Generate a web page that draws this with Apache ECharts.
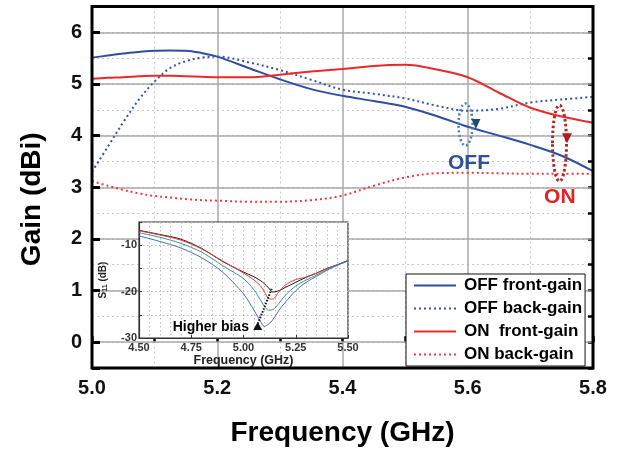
<!DOCTYPE html>
<html><head><meta charset="utf-8">
<script src="https://cdn.jsdelivr.net/npm/echarts@6/dist/echarts.min.js"></script>
<style>html,body{margin:0;padding:0;background:#fff}#c{width:620px;height:452px}</style>
</head><body><div id="c"></div>
<script>
// ---- main chart data (Frequency GHz vs Gain dBi) ----
const freq      = [5.00, 5.025, 5.05, 5.075, 5.10, 5.125, 5.15, 5.175, 5.20, 5.25, 5.30, 5.35, 5.40, 5.45, 5.50, 5.55, 5.60, 5.65, 5.70, 5.75, 5.80];
const offFront  = [5.51, 5.55, 5.59, 5.62, 5.645, 5.65, 5.645, 5.60, 5.53, 5.31, 5.09, 4.90, 4.77, 4.67, 4.56, 4.38, 4.17, 4.00, 3.82, 3.61, 3.31];
const offBack   = [3.30, 3.78, 4.26, 4.70, 5.05, 5.31, 5.44, 5.51, 5.53, 5.42, 5.27, 5.08, 4.89, 4.81, 4.72, 4.58, 4.48, 4.52, 4.64, 4.70, 4.75];
const onFront   = [5.10, 5.12, 5.13, 5.15, 5.16, 5.16, 5.15, 5.14, 5.13, 5.13, 5.18, 5.24, 5.29, 5.35, 5.37, 5.28, 5.13, 4.83, 4.54, 4.37, 4.25];
const onBack    = [3.12, 3.03, 2.95, 2.88, 2.83, 2.80, 2.77, 2.75, 2.74, 2.72, 2.72, 2.75, 2.84, 3.03, 3.19, 3.27, 3.28, 3.27, 3.26, 3.26, 3.26];
const seriesNames = ['OFF front-gain', 'OFF back-gain', 'ON  front-gain', 'ON back-gain'];
const xTicks = [5.0, 5.2, 5.4, 5.6, 5.8];
const yTicks = [0, 1, 2, 3, 4, 5, 6];

// ---- inset data (Frequency GHz vs S11 dB, four bias levels) ----
const insetFreq = [4.50, 4.60, 4.70, 4.80, 4.90, 5.00, 5.05, 5.08, 5.10, 5.12, 5.14, 5.17, 5.20, 5.25, 5.30, 5.35, 5.40, 5.45, 5.50];
const s11Black  = [-6.8, -7.7, -8.7, -10.7, -13.5, -15.8, -16.8, -17.6, -18.3, -19.2, -20.1, -19.8, -19.1, -18.0, -16.9, -16.0, -15.0, -14.2, -13.3];
const s11Red    = [-6.9, -7.8, -8.9, -10.8, -13.4, -16.0, -17.5, -18.7, -20.0, -21.5, -21.6, -20.0, -18.6, -17.4, -16.9, -16.0, -15.0, -14.2, -13.3];
const s11Teal   = [-7.3, -8.3, -9.6, -11.5, -14.4, -17.2, -19.6, -21.7, -23.2, -24.0, -23.9, -22.5, -20.8, -18.8, -17.5, -16.4, -15.2, -14.3, -13.4];
const s11Blue   = [-8.0, -9.2, -10.6, -12.7, -15.8, -20.5, -24.0, -26.3, -27.5, -27.0, -26.1, -24.0, -22.3, -19.8, -18.0, -16.7, -15.4, -14.3, -13.4];
const insetXTicks = [4.50, 4.75, 5.00, 5.25, 5.50];
const insetYTicks = [-10, -20, -30];

// annotation anchors in data units
const offMark = {cx: 5.5964, cy: 4.215, tx: 5.613, ty: 4.225, lx: 5.602, ly: 3.47};
const onMark  = {cx: 5.7465, cy: 3.853, tx: 5.7585, ty: 3.948, lx: 5.747, ly: 2.80};
const biasArrow = {x0: 5.135, y0: -19.4, x1: 5.068, y1: -27.0, tx: 5.026, ty: -27.7};

const FONT = '"Liberation Sans", Arial, sans-serif';
const pairs = (xs, ys) => xs.map((x, i) => [x, ys[i]]);

const chart = echarts.init(document.getElementById('c'), null, {renderer: 'canvas'});

const mainColors = ['#2f4ea3', '#3456aa', '#ea2a2a', '#ee3a3a'];
const mainData = [offFront, offBack, onFront, onBack];
const dotted = [false, true, false, true];

const series = mainData.map((d, i) => ({
  name: seriesNames[i], type: 'line', xAxisIndex: 0, yAxisIndex: 0,
  data: pairs(freq, d), smooth: 0.35, symbol: 'none', z: 2,
  color: mainColors[i],
  lineStyle: {color: mainColors[i], width: 2, type: dotted[i] ? [2, 3] : 'solid'}
}));
const insetColors = ['#1a1a1a', '#ee3535', '#2f9c8c', '#4a6cc8'];
[s11Black, s11Red, s11Teal, s11Blue].forEach((d, i) => series.push({
  name: 's11_' + i, type: 'line', xAxisIndex: 1, yAxisIndex: 2,
  data: pairs(insetFreq, d), smooth: 0.3, symbol: 'none', z: 6, silent: true,
  lineStyle: {color: insetColors[i], width: 1}
}));

chart.setOption({
  animation: false,
  backgroundColor: '#fff',
  grid: [
    {left: 92, right: 27, top: 6.5, bottom: 78.5, show: false},
    {left: 139, top: 222, width: 209, height: 116, show: true, backgroundColor: '#fff', borderColor: '#333', borderWidth: 1.2, z: 3}
  ],
  legend: {
    data: seriesNames, orient: 'vertical', left: 406, top: 274,
    backgroundColor: '#fff', borderColor: '#111', borderWidth: 1, borderRadius: 0,
    padding: [3, 3, 3, 7], itemWidth: 42, itemHeight: 14, itemGap: 6, z: 6,
    itemStyle: {opacity: 0},
    textStyle: {fontFamily: FONT, fontWeight: 'bold', fontSize: 17, color: '#000', lineHeight: 16, padding: [0, 0, 0, 3]}
  },
  xAxis: [
    {type: 'value', gridIndex: 0, min: 5.0, max: 5.8, interval: 0.2,
     axisLine: {show: false},
     axisTick: {show: true, inside: true, length: 6, lineStyle: {color: '#000', width: 2.5}},
     minorTick: {show: true, splitNumber: 2, length: 6, lineStyle: {color: '#000', width: 2.5}},
     axisLabel: {fontFamily: FONT, fontWeight: 'bold', fontSize: 20, color: '#111', margin: 10,
                 formatter: v => xTicks.some(t => Math.abs(t - v) < 1e-6) ? v.toFixed(1) : ''},
     splitLine: {show: true, lineStyle: {color: '#aaa', width: 1.5}},
     minorSplitLine: {show: true, lineStyle: {color: '#c8c8c8', width: 1, type: [2, 3]}},
     name: 'Frequency (GHz)', nameLocation: 'middle', nameGap: 51,
     nameTextStyle: {fontFamily: FONT, fontWeight: 'bold', fontSize: 28, color: '#000'}},
    {type: 'value', gridIndex: 1, min: 4.5, max: 5.5, interval: 0.25, z: 4,
     axisLine: {show: true, lineStyle: {color: '#333', width: 1.2}},
     axisTick: {show: true, inside: true, length: 3, lineStyle: {color: '#333', width: 1}},
     minorTick: {show: false},
     axisLabel: {fontFamily: FONT, fontWeight: 'bold', fontSize: 11, color: '#333', margin: 4,
                 formatter: v => v.toFixed(2)},
     splitLine: {show: true, lineStyle: {color: '#bbb', width: 1, type: [1.5, 2.5]}},
     minorSplitLine: {show: true, lineStyle: {color: '#bbb', width: 1, type: [1.5, 2.5]}},
     name: 'Frequency (GHz)', nameLocation: 'middle', nameGap: 16,
     nameTextStyle: {fontFamily: FONT, fontWeight: 'bold', fontSize: 12.5, color: '#222'}}
  ],
  yAxis: [
    {type: 'value', gridIndex: 0, min: -0.5, max: 6.5, splitNumber: 7, z: 1,
     axisLine: {show: false},
     axisTick: {show: true, inside: true, length: 8, lineStyle: {color: '#000', width: 3}},
     axisLabel: {fontFamily: FONT, fontWeight: 'bold', fontSize: 20, color: '#111', margin: 10,
                 formatter: v => yTicks.some(t => Math.abs(t - v) < 1e-6) ? String(Math.round(v)) : ''},
     splitLine: {show: true, lineStyle: {color: '#aaa', width: 1.5}},
     name: 'Gain (dBi)', nameLocation: 'middle', nameGap: 46, nameRotate: 90,
     nameTextStyle: {fontFamily: FONT, fontWeight: 'bold', fontSize: 28, color: '#000', padding: [0, 24, 0, 0]}},
    {type: 'value', gridIndex: 0, min: -0.5, max: 6.5, interval: 0.5, z: 0,
     axisLine: {show: false},
     axisTick: {show: true, inside: true, length: 5, lineStyle: {color: '#000', width: 2.5}},
     axisLabel: {show: false},
     splitLine: {show: true, lineStyle: {color: '#c8c8c8', width: 1, type: [2, 3]}}},
    {type: 'value', gridIndex: 1, min: -30, max: -5, interval: 5, z: 4,
     axisLine: {show: true, lineStyle: {color: '#333', width: 1.2}},
     axisTick: {show: true, inside: true, length: 3, lineStyle: {color: '#333', width: 1}},
     axisLabel: {fontFamily: FONT, fontWeight: 'bold', fontSize: 11, color: '#333', margin: 2,
                 formatter: v => insetYTicks.includes(Math.round(v)) && Math.abs(v - Math.round(v)) < 1e-6 ? String(Math.round(v)) : ''},
     splitLine: {show: true, lineStyle: {color: '#bbb', width: 1, type: [1.5, 2.5]}},
     name: 'S{sub|11} (dB)', nameLocation: 'middle', nameGap: 30, nameRotate: 90,
     nameTextStyle: {fontFamily: FONT, fontWeight: 'bold', fontSize: 10, color: '#222',
       rich: {sub: {fontFamily: FONT, fontWeight: 'bold', fontSize: 7, color: '#222', verticalAlign: 'bottom', padding: [4, 0, 0, 0]}}}}
  ],
  series: series
});

function drawGraphics() {
  const p = (g, xy) => chart.convertToPixel({gridIndex: g}, xy);
  const tl = p(0, [5.0, 6.5]), br = p(0, [5.8, -0.5]);
  const oc = p(0, [offMark.cx, offMark.cy]), ot = p(0, [offMark.tx, offMark.ty]), ol = p(0, [offMark.lx, offMark.ly]);
  const nc = p(0, [onMark.cx, onMark.cy]), nt = p(0, [onMark.tx, onMark.ty]), nl = p(0, [onMark.lx, onMark.ly]);
  const a0 = p(1, [biasArrow.x0, biasArrow.y0]), a1 = p(1, [biasArrow.x1, biasArrow.y1]), at = p(1, [biasArrow.tx, biasArrow.ty]);
  chart.setOption({graphic: [
    {type: 'rect', z: 10, silent: true, shape: {x: tl[0], y: tl[1], width: br[0] - tl[0], height: br[1] - tl[1]},
     style: {fill: 'none', stroke: '#000', lineWidth: 3}},
    {type: 'ellipse', z: 10, shape: {cx: oc[0], cy: oc[1], rx: 7, ry: 21},
     style: {fill: 'none', stroke: '#4a7db5', lineWidth: 2.5, lineDash: [2, 2.5]}},
    {type: 'polygon', z: 10, shape: {points: [[ot[0] - 4.5, ot[1] - 5], [ot[0] + 4.5, ot[1] - 5], [ot[0], ot[1] + 5]]},
     style: {fill: '#1f4a78'}},
    {type: 'text', z: 10, x: ol[0], y: ol[1], style: {text: 'OFF', fill: '#2f4f9f', font: 'bold 21px ' + FONT, align: 'center', verticalAlign: 'middle'}},
    {type: 'ellipse', z: 10, shape: {cx: nc[0], cy: nc[1], rx: 7, ry: 38},
     style: {fill: 'none', stroke: '#b42424', lineWidth: 3, lineDash: [2.5, 2.5]}},
    {type: 'polygon', z: 10, shape: {points: [[nt[0] - 5, nt[1] - 5], [nt[0] + 5, nt[1] - 5], [nt[0], nt[1] + 5]]},
     style: {fill: '#b01c1c'}},
    {type: 'text', z: 10, x: nl[0], y: nl[1], style: {text: 'ON', fill: '#e52121', font: 'bold 21px ' + FONT, align: 'center', verticalAlign: 'middle'}},
    {type: 'line', z: 10, shape: {x1: a0[0], y1: a0[1], x2: a1[0], y2: a1[1]},
     style: {stroke: '#111', lineWidth: 2, lineDash: [1.5, 1.5]}},
    {type: 'polygon', z: 10, shape: {points: [[a1[0] - 4.5, a1[1] + 6], [a1[0] + 4.5, a1[1] + 6], [a1[0], a1[1] - 2]]},
     style: {fill: '#111'}},
    {type: 'text', z: 10, x: at[0], y: at[1], style: {text: 'Higher bias', fill: '#000', font: 'bold 14px ' + FONT, align: 'right', verticalAlign: 'middle'}}
  ]});
}
drawGraphics();
</script></body></html>
